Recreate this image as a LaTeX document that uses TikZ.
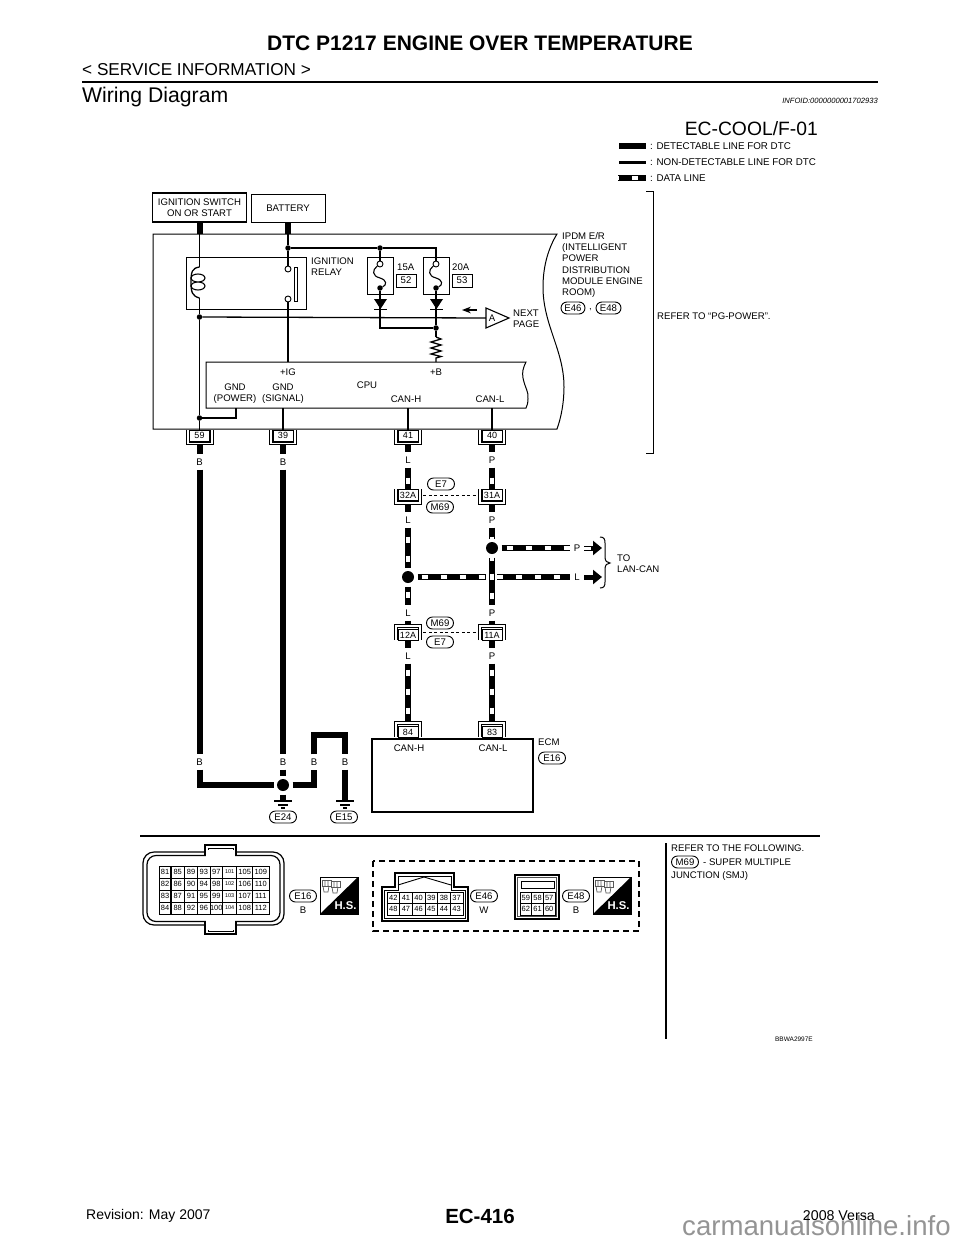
\documentclass[tikz,border=0pt]{standalone}
\usepackage{fontspec}
\setmainfont{Liberation Sans}
\usetikzlibrary{arrows.meta}
\usetikzlibrary{calc,positioning}

\newcommand{\fsz}[1]{\fontsize{#1}{#1}\selectfont}

\tikzset{
  every node/.style={font=\fontsize{9.6}{11.2}\selectfont, inner sep=0pt},
  thinwire/.style={line width=1.3pt},
  fatwire/.style={line width=6pt},
  dataline/.style={line width=6pt, postaction={draw=white, line width=3.6pt, dash pattern=on 6pt off 13pt, dash phase=#1pt}},
  dataline/.default=10,
  linkdash/.style={line width=1pt, dash pattern=on 3pt off 2.5pt, shorten <=5pt, shorten >=5pt},
  outline/.style={line width=1pt},
  jdot/.style={circle, fill=black, minimum size=5.5pt},
  bigdot/.style={circle, fill=black, minimum size=12pt, outer sep=3.5pt},
  contact/.style={circle, draw, fill=white, line width=.9pt, minimum size=6pt},
  pinbox/.style={draw, fill=white, line width=.8pt, minimum width=20pt, minimum height=11pt, font=\fsz{9}},
  pincell/.style={draw, line width=.9pt, minimum height=12pt},
  bracket/.style={line width=.8pt},
  tagoval/.style={draw, fill=white, line width=.9pt, rounded corners=6pt, minimum width=27pt, minimum height=12pt},
  wirelab/.style={minimum width=14pt, minimum height=15pt},
  titlebox/.style={draw, line width=1.4pt},
  legendtxt/.style={anchor=west, inner xsep=4pt, font=\fsz{9.8}},
  fatarrow/.style={line width=5pt, -{Triangle[length=9pt,width=14pt]}},
}

% U shaped connector, wire leaves at the bottom
\newcommand{\pinup}[4]{
  \node[pinbox] (#1) at (#2,#3) {#4};
  \draw[bracket, shift={(#2,#3)}] (-13.5,-6) -- (-13.5,9) -- (13.5,9) -- (13.5,-6)
    (-10.5,-6) -- (-10.5,6.5) -- (10.5,6.5) -- (10.5,-6);
}
% same thing upside down
\newcommand{\pindown}[4]{
  \node[pinbox] (#1) at (#2,#3) {#4};
  \draw[bracket, shift={(#2,#3)}] (-13.5,5) -- (-13.5,-10.5) -- (13.5,-10.5) -- (13.5,5)
    (-10.5,5) -- (-10.5,-8) -- (10.5,-8) -- (10.5,5);
}
% ground symbol hanging under a named coordinate
\newcommand{\gndmark}[3]{
  \coordinate (#1) at (#2,#3);
  \draw[line width=1.1pt, shift={(#2,#3)}] (-9,0) -- (9,0) (-5,4) -- (5,4) (-2,7) -- (2,7);
}
% harness side mark
\newcommand{\hsmark}[3]{
  \begin{scope}[shift={(#2,#3)}]
    \fill (0,37) -- (38,0) -- (38,37) -- cycle;
    \draw[line width=1pt] (0,0) rectangle (38,37);
    \node[text=white, font=\bfseries\fsz{11.3}] (#1) at (25.5,29) {H.S.};
    \draw[line width=.9pt, black!65] (2,3) rectangle (11,9) (11,4) rectangle (20,10);
    \draw[line width=.7pt, black!65] (3,9) -- (4,15) -- (8,15) -- (9,9) (12,10) -- (13,16) -- (17,16) -- (18,10)
      (5,3) -- (5,9) (8,3) -- (8,9) (14,4) -- (14,10) (17,4) -- (17,10);
  \end{scope}
}

\begin{document}
\begin{tikzpicture}[x=1pt, y=-1pt, >=Stealth]
\useasboundingbox (0,0) rectangle (960,1242);

    % page header and footer
    \node[font=\bfseries\fsz{21}] (pagetitle) at (480,43) {DTC P1217 ENGINE OVER TEMPERATURE};
    \node[anchor=west, font=\fsz{17.2}] (section) at (82,70) {< SERVICE INFORMATION >};
    \coordinate (rulea) at (82,82);
    \coordinate (ruleb) at (878,82);
    \draw[line width=2.5pt] (rulea) -- (ruleb);
    \node[anchor=west, font=\fsz{21.2}] (heading) at (82,97) {Wiring Diagram};
    \node[anchor=east, font=\itshape\fsz{7.6}] (infoid) at (878,101) {INFOID:0000000001702933};
    \node[anchor=base west, text=black!42, font=\fsz{27.6}] (mark) at (682,1235) {carmanualsonline.info};
    \node[anchor=west, font=\fsz{14}] (revision) at (86,1216) {Revision: May 2007};
    \node[font=\bfseries\fsz{20.5}] (pageno) at (480,1216) {EC-416};
    \node[anchor=east, font=\fsz{14.2}] (model) at (875,1216) {2008 Versa};

    % legend
    \node[anchor=east, font=\fsz{19.3}] (code) at (818,129) {EC-COOL/F-01};
    \node[legendtxt] (lgfat) at (646,146) {: DETECTABLE LINE FOR DTC};
    \node[legendtxt] (lgthin) at (646,162) {: NON-DETECTABLE LINE FOR DTC};
    \node[legendtxt] (lgdata) at (646,178) {: DATA LINE};
    \coordinate (lga) at (619,146);
    \coordinate (lgb) at (619,162);
    \coordinate (lgc) at (618,178);
    \draw[fatwire] (lga) -- (lgfat);
    \draw[line width=3pt] (lgb) -- (lgthin);
    \draw[dataline=5] (lgc) -- (lgdata);

    % IPDM E/R module
    \draw[outline] (153,234) -- (557,234) .. controls (549,247) and (543,265) .. (543,287)
      .. controls (543,325) and (564,350) .. (564,387) .. controls (564,403) and (561,418) .. (557,429) -- (153,429) -- cycle;
    \draw[outline] (646,191) -- (653,191) -- (653,453) -- (646,453);
    \node[anchor=west, align=left] (ipdm) at (562,265) {IPDM E/R\\(INTELLIGENT\\POWER\\DISTRIBUTION\\MODULE ENGINE\\ROOM)};
    \node[tagoval, minimum width=24pt] (e46) at (573,308) {E46};
    \node[tagoval, minimum width=25pt] (e48) at (608.5,308) {E48};
    \node (comma) at (590.5,310) {,};
    \node[anchor=west] (pgpower) at (657,316) {REFER TO “PG-POWER”.};

    \node[titlebox, minimum width=94pt, minimum height=29pt, align=center] (ign) at (199.5,207.5) {IGNITION SWITCH\\ON OR START};
    \node[outline, draw, minimum width=74pt, minimum height=28pt] (bat) at (288,208) {BATTERY};

    % relay
    \node[draw, outline, minimum width=120pt, minimum height=52pt] (relay) at (246,283) {};
    \node[anchor=west, align=left] (relaytxt) at (311,266.5) {IGNITION\\RELAY};
    \coordinate (igntop) at (199.5,234);
    \coordinate (coila) at (199.5,267);
    \coordinate (coilb) at (199.5,298);
    \node[jdot] (jrel) at (199.5,317) {};
    \node[jdot] (jgnd) at (199.5,418) {};
    \draw[fatwire] (ign.south) -- (igntop);
    \draw[thinwire] (igntop) -- (coila);
    \draw[thinwire] (coila) .. controls (192,268) and (191,272) .. (191,282) .. controls (191,292) and (192,296) .. (coilb);
    \draw[line width=1.1pt] (198,278) ellipse (7 and 4) (198,286) ellipse (7 and 4);
    \coordinate (battop) at (288,234);
    \node[jdot] (jbat) at (288,248) {};
    \node[jdot] (jfuse) at (380,248) {};
    \node[contact] (cona) at (288,269) {};
    \node[contact] (conb) at (288,299) {};
    \coordinate (igpin) at (288,362);
    \draw[fatwire] (bat.south) -- (battop);
    \draw[thinwire] (battop) -- (jbat) -- (cona);
    \draw[thinwire] (conb) -- (igpin);
    \draw[line width=1pt] (294,267) rectangle (297,301);

    % fuses
    \node[draw, outline, minimum width=26pt, minimum height=37pt] (fusea) at (380,275.5) {};
    \node[draw, outline, minimum width=26pt, minimum height=37pt] (fuseb) at (436,275.5) {};
    \node[contact] (fca) at (380,264) {};
    \node[contact] (fcb) at (436,264) {};
    \node[jdot] (fda) at (380,288) {};
    \node[jdot] (fdb) at (436,288) {};
    \node[jdot] (jplus) at (436,328) {};
    \draw[thinwire] (jbat) -- (jfuse) -| (fcb);
    \draw[thinwire] (jfuse) -- (fca);
    \draw[line width=1.1pt] (fca) .. controls (372,270) and (372,276) .. (380,278) .. controls (387,280) and (387,285) .. (fda);
    \draw[line width=1.1pt] (fcb) .. controls (428,270) and (428,276) .. (436,278) .. controls (443,280) and (443,285) .. (fdb);
    \draw[thinwire] (fda) |- (jplus);
    \draw[thinwire] (fdb) -- (jplus);
    \fill (374,299) -- (387,299) -- (380.5,309) -- cycle;
    \fill (430,299) -- (443,299) -- (436.5,309) -- cycle;
    \draw[line width=1pt] (374,309) -- (387,309) (430,309) -- (443,309);
    \node[anchor=west] (amp15) at (397,267) {15A};
    \node[anchor=west] (amp20) at (452,267) {20A};
    \node[draw, line width=.9pt, minimum width=20pt, minimum height=13pt] (fb52) at (406,280.5) {52};
    \node[draw, line width=.9pt, minimum width=20pt, minimum height=13pt] (fb53) at (462,280.5) {53};

    % next page link
    \coordinate (tria) at (486,318);
    \draw[thinwire] (jrel) -- (tria);
    \draw[line width=1.1pt, fill=white] (486,308) -- (509,318) -- (486,328) -- cycle;
    \node (atag) at (492,318) {A};
    \node[anchor=west, align=left] (nextpage) at (513,318.5) {NEXT\\PAGE};
    \coordinate (nxa) at (477,310);
    \coordinate (nxb) at (462,310);
    \draw[->, line width=1.3pt] (nxa) -- (nxb);
    \coordinate (resa) at (436,337);
    \coordinate (resb) at (436,358);
    \coordinate (bpin) at (436,362);
    \draw[thinwire] (jplus) -- (resa);
    \draw[thinwire] (resa) -- (441,339) -- (431,342) -- (441,345) -- (431,348) -- (441,351) -- (431,354) -- (441,356.5) -- (resb) -- (bpin);

    % CPU
    \draw[outline] (206,362) -- (526,362) .. controls (523,368) and (522,372) .. (523,378)
      .. controls (525,388) and (529,392) .. (528,399) .. controls (528,403) and (527,406) .. (526,408) -- (206,408) -- cycle;
    \node (igtxt) at (288,372) {+IG};
    \node (btxt) at (436,372) {+B};
    \node (cputxt) at (367,385) {CPU};
    \node[align=center] (gndp) at (235,393.5) {GND\\(POWER)};
    \node[align=center] (gnds) at (283,393.5) {GND\\(SIGNAL)};
    \node (canhtxt) at (406,399) {CAN-H};
    \node (canltxt) at (490,399) {CAN-L};

    % module pins
    \pinup{pa}{199.5}{435.5}{59}
    \pinup{pb}{283}{435.5}{39}
    \pinup{pc}{408}{435.5}{41}
    \pinup{pd}{492}{435.5}{40}
    \coordinate (gndpin) at (236,408);
    \coordinate (sigpin) at (283,408);
    \coordinate (hipin) at (408,408);
    \coordinate (lopin) at (492,408);
    \draw[thinwire] (coilb) -- (jrel) -- (jgnd) -- (pa);
    \draw[thinwire] (gndpin) |- (jgnd);
    \draw[thinwire] (sigpin) -- (pb);
    \draw[thinwire] (hipin) -- (pc);
    \draw[thinwire] (lopin) -- (pd);

    % power grounds
    \node[wirelab] (ba) at (199.5,462) {B};
    \node[wirelab] (bb) at (283,462) {B};
    \node[wirelab] (bc) at (199.5,762) {B};
    \node[wirelab] (bd) at (283,762) {B};
    \node[wirelab] (be) at (314,762) {B};
    \node[wirelab] (bf) at (345,762) {B};
    \node[bigdot] (jbody) at (283,785) {};
    \coordinate (bend) at (314,735);
    \gndmark{gnda}{283}{801}
    \gndmark{gndb}{345}{801}
    \draw[fatwire, shorten <=4pt] (pa.south) -- (ba.north);
    \draw[fatwire, shorten <=4pt] (pb.south) -- (bb.north);
    \draw[fatwire] (ba.south) -- (bc.north);
    \draw[fatwire] (bb.south) -- (bd.north);
    \draw[fatwire] (bc.south) |- (jbody);
    \draw[fatwire] (bd.south) -- (jbody);
    \draw[fatwire] (jbody) -- (gnda);
    \draw[fatwire] (jbody) -| (be.south);
    \draw[fatwire] (be.north) -- (bend) -| (bf.north);
    \draw[fatwire] (bf.south) -- (gndb);
    \node[tagoval] (e24) at (283,817) {E24};
    \node[tagoval] (e15) at (344,817) {E15};

    % CAN lines
    \node[wirelab] (la) at (408,460) {L};
    \node[wirelab] (lb) at (408,520) {L};
    \node[wirelab] (lc) at (408,613) {L};
    \node[wirelab] (ld) at (408,656) {L};
    \node[wirelab] (ka) at (492,460) {P};
    \node[wirelab] (kb) at (492,520) {P};
    \node[wirelab] (kc) at (492,613) {P};
    \node[wirelab] (kd) at (492,656) {P};
    \pinup{pe}{408}{495}{32A}
    \pinup{pf}{492}{495}{31A}
    \pindown{pg}{408}{635}{12A}
    \pindown{ph}{492}{635}{11A}
    \pindown{pi}{408}{732}{84}
    \pindown{pj}{492}{732}{83}
    \draw[linkdash] (pe) -- (pf);
    \draw[linkdash] ([yshift=3pt]pg.east) -- ([yshift=3pt]ph.west);
    \node[tagoval] (etop) at (441,484) {E7};
    \node[tagoval] (mtop) at (440,507) {M69};
    \node[tagoval] (mlow) at (440,623) {M69};
    \node[tagoval] (elow) at (440,642) {E7};
    \node[bigdot] (jlo) at (408,577) {};
    \node[bigdot] (jhi) at (492,548) {};
    \coordinate (crossa) at (486,577);
    \coordinate (crossb) at (497,577);
    \node[wirelab] (pout) at (577,548) {P};
    \node[wirelab] (lout) at (577,577) {L};
    \draw[fatwire, shorten <=4pt] (pc.south) -- (la.north);
    \draw[fatwire, shorten <=4pt] (pd.south) -- (ka.north);
    \draw[dataline=9] (la.south) -- (pe.north);
    \draw[dataline=9] (ka.south) -- (pf.north);
    \draw[fatwire, shorten <=4pt] (pe.south) -- (lb.north);
    \draw[fatwire, shorten <=4pt] (pf.south) -- (kb.north);
    \draw[dataline] (lb.south) -- (jlo);
    \draw[dataline] (kb.south) -- (jhi);
    \draw[dataline=14] (jlo) -- (lc.north);
    \draw[dataline=3] (jhi) -- (kc.north);
    \draw[dataline=15] (jlo) -- (crossa);
    \draw[dataline=0] (crossb) -- (lout);
    \draw[dataline=14] (jhi) -- (pout);
    \draw[fatwire, shorten >=5pt] (lc.south) -- (pg.north);
    \draw[fatwire, shorten >=5pt] (kc.south) -- (ph.north);
    \draw[fatwire] (pg.south) -- (ld.north);
    \draw[fatwire] (ph.south) -- (kd.north);
    \draw[dataline=13, shorten >=5pt] (ld.south) -- (pi.north);
    \draw[dataline=13, shorten >=5pt] (kd.south) -- (pj.north);
    \coordinate (tipp) at (602,548);
    \coordinate (tipl) at (602,577);
    \draw[fatarrow] (pout) -- (tipp);
    \draw[fatarrow] (lout) -- (tipl);
    \fill[white] (584,546.5) rectangle (591,549.5);
    \draw[line width=1pt] (600,537) .. controls (604,537) and (605,539) .. (605,543) -- (605,557)
      .. controls (605,561) and (607,563) .. (610,563) .. controls (607,563) and (605,565) .. (605,569)
      -- (605,582) .. controls (605,586) and (604,588) .. (600,588);
    \node[anchor=west, align=left] (lancan) at (617,563.5) {TO\\LAN-CAN};

    % ECM
    \node[draw, line width=1.2pt, minimum width=161pt, minimum height=73pt] (ecm) at (452.5,775.5) {};
    \node (ecmh) at (409,748) {CAN-H};
    \node (ecml) at (493,748) {CAN-L};
    \node[anchor=west] (ecmtxt) at (538,742) {ECM};
    \node[tagoval] (e16) at (552,758) {E16};

    % lower part of the sheet
    \coordinate (sepa) at (140,836);
    \coordinate (sepb) at (820,836);
    \coordinate (vsepa) at (666,843);
    \coordinate (vsepb) at (666,1039);
    \draw[line width=1.7pt] (sepa) -- (sepb);
    \draw[line width=1.2pt] (vsepa) -- (vsepb);
    \node[anchor=west] (refer) at (671,848) {REFER TO THE FOLLOWING.};
    \node[tagoval] (msmj) at (685,862) {M69};
    \node[anchor=west] (smja) at (703,862) {- SUPER MULTIPLE};
    \node[anchor=west] (smjb) at (671,876) {JUNCTION (SMJ)};
    \node[anchor=east, font=\fsz{6.5}] (figno) at (813,1039) {BBWA2997E};

    % connector E16
    \draw[line width=1.2pt, rounded corners=11pt] (143,852) rectangle (284,925);
    \draw[line width=1.2pt, rounded corners=9pt] (147,855.5) rectangle (280,921.5);
    \filldraw[fill=white, line width=1.2pt] (205,856) -- (205,845) -- (236,845) -- (236,856);
    \draw[line width=1pt] (208,856) -- (208,848) -- (233,848) -- (233,856);
    \filldraw[fill=white, line width=1.2pt] (205,921) -- (205,934) -- (236,934) -- (236,921);
    \draw[line width=1pt] (208,921) -- (208,931) -- (233,931) -- (233,921);
    \fill[white] (206,850) rectangle (235,857);
    \fill[white] (206,920) rectangle (235,930);
    \foreach \first/\cx/\w/\sz in {81/165/11.7/7.5, 85/177.7/13.3/7.5, 89/191/13.3/7.5, 93/203.8/12.3/7.5,
        97/216.3/12.7/7.5, 101/229.7/14/5.5, 105/244.7/16/7.5, 109/260.8/16.3/7.5} {
      \foreach \r in {0,1,2,3} {
        \pgfmathtruncatemacro{\n}{\first+\r}
        \node[pincell, minimum width=\w pt, font=\fsz{\sz}] (c\n) at (\cx,{872+12*\r}) {\n};
      }
    }
    \node[tagoval] (tage) at (303,896) {E16};
    \node (colore) at (303,910) {B};
    \hsmark{hsa}{320}{877}

    % connectors E46 and E48
    \draw[line width=1.2pt, dash pattern=on 6pt off 4pt] (373,861) rectangle (639,931);
    \draw[line width=1.2pt] (382,887) -- (395,887) -- (395,873) -- (454,873) -- (454,887) -- (468,887) -- (468,921) -- (382,921) -- cycle;
    \draw[line width=.9pt] (384.5,890) -- (398,890) -- (398,876) -- (451,876) -- (451,890) -- (465.5,890) -- (465.5,918) -- (384.5,918) -- cycle;
    \draw[line width=.9pt] (398,885) -- (424,877) -- (451,885);
    \foreach \n [count=\i from 0] in {42,41,40,39,38,37} {
      \node[pincell, fill=white, minimum width=12.7pt, minimum height=11.5pt, font=\fsz{7.5}] (c\n) at ({393.3+12.67*\i},897.7) {\n};
    }
    \foreach \n [count=\i from 0] in {48,47,46,45,44,43} {
      \node[pincell, fill=white, minimum width=12.7pt, minimum height=11.5pt, font=\fsz{7.5}] (c\n) at ({393.3+12.67*\i},909.2) {\n};
    }
    \node[tagoval] (tagf) at (484,896) {E46};
    \node (colorf) at (484,910) {W};
    \draw[line width=1.4pt] (515,875) rectangle (559,919);
    \draw[line width=.8pt, black!70] (517.5,877.5) rectangle (556.5,916.5);
    \draw[line width=1pt] (521,881) rectangle (554,888);
    \foreach \n [count=\i from 0] in {59,58,57} {
      \node[pincell, minimum width=11.7pt, minimum height=11.5pt, font=\fsz{7.5}] (c\n) at ({525.8+11.7*\i},897.7) {\n};
    }
    \foreach \n [count=\i from 0] in {62,61,60} {
      \node[pincell, minimum width=11.7pt, minimum height=11.5pt, font=\fsz{7.5}] (c\n) at ({525.8+11.7*\i},909.2) {\n};
    }
    \node[tagoval] (tagg) at (576,896) {E48};
    \node (colorg) at (576,910) {B};
    \hsmark{hsb}{593}{877}

\end{tikzpicture}
\end{document}
